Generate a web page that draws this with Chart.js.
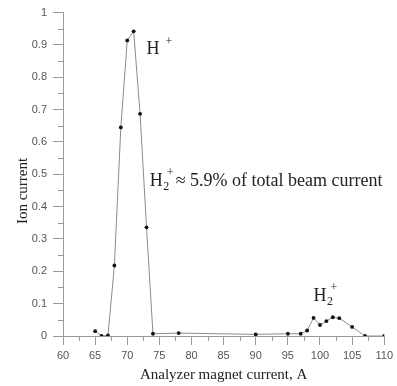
<!DOCTYPE html>
<html>
<head>
<meta charset="utf-8">
<script src="https://cdn.jsdelivr.net/npm/chart.js@4.4.1/dist/chart.umd.min.js"></script>
<style>
  html, body { margin: 0; padding: 0; background: #fff; }
  #wrap { width: 397px; height: 386px; }
</style>
</head>
<body>
<div id="wrap"><canvas id="ionChart" width="397" height="386"></canvas></div>
<script>
// analyzer magnet current (A) and ion current (normalised)
var magnetCurrent = [65, 66, 67, 68, 69, 70, 71, 72, 73, 74, 78, 90, 95, 97, 98, 99, 100, 101, 102, 103, 105, 107, 110];
var ionCurrent = [0.015, 0, 0.002, 0.218, 0.645, 0.914, 0.942, 0.687, 0.336, 0.007, 0.009, 0.005, 0.007, 0.007, 0.017, 0.056, 0.034, 0.046, 0.058, 0.055, 0.028, 0, 0];

var xTitle = 'Analyzer magnet current, A';
var yTitle = 'Ion current';

var points = [];
for (var i in magnetCurrent) {
  points.push({ x: magnetCurrent[i], y: ionCurrent[i] });
}

var serif = '"Liberation Serif", "Times New Roman", serif';
var textColor = '#222';
var axisColor = '#9a9a9a';

// H, subscript 2, superscript + ... then the rest of the string
function drawLabel(ctx, x, y, sub, rest) {
  ctx.font = '18px ' + serif;
  ctx.fillText('H', x, y);
  x += ctx.measureText('H').width;
  ctx.font = '12px ' + serif;
  var w = 0;
  if (sub) {
    ctx.fillText(sub, x + 0.5, y + 4);
    w = ctx.measureText(sub).width;
    ctx.fillText('+', x + 4, y - 10);
  } else {
    ctx.fillText('+', x + 6, y - 9);
  }
  x += Math.max(w, 7) + 6;
  if (rest) {
    ctx.font = '18px ' + serif;
    ctx.fillText(rest, x, y);
  }
}

var extras = {
  id: 'extras',
  afterDraw: function(chart) {
    var ctx = chart.ctx;
    var xs = chart.scales.x, ys = chart.scales.y;
    var bottom = ys.getPixelForValue(0);
    var left = xs.getPixelForValue(60);
    ctx.save();
    // minor ticks
    ctx.strokeStyle = axisColor;
    ctx.lineWidth = 1;
    ctx.beginPath();
    for (var v = 62.5; v < 110; v += 5) {
      var px = Math.round(xs.getPixelForValue(v)) + 0.5;
      ctx.moveTo(px, bottom);
      ctx.lineTo(px, bottom + 5);
    }
    for (var k = 1; k < 20; k += 2) {
      var py = Math.round(ys.getPixelForValue(k / 20)) + 0.5;
      ctx.moveTo(left - 5, py);
      ctx.lineTo(left, py);
    }
    ctx.stroke();

    // text
    ctx.fillStyle = textColor;
    ctx.textBaseline = 'alphabetic';
    ctx.textAlign = 'left';
    drawLabel(ctx, xs.getPixelForValue(73.0), ys.getPixelForValue(0.871), null, null);
    drawLabel(ctx, xs.getPixelForValue(73.5), ys.getPixelForValue(0.465), '2', '\u2248 5.9% of total beam current');
    drawLabel(ctx, xs.getPixelForValue(99.0), ys.getPixelForValue(0.108), '2', null);

    ctx.font = '15px ' + serif;
    ctx.textAlign = 'center';
    ctx.fillText(xTitle, (chart.chartArea.left + chart.chartArea.right) / 2, 379);
    ctx.translate(27, 191);
    ctx.rotate(-Math.PI / 2);
    ctx.fillText(yTitle, 0, 0);
    ctx.restore();
  }
};

var ctx = document.getElementById('ionChart');
var chart = new Chart(ctx, {
  type: 'scatter',
  data: {
    datasets: [{
      label: 'Ion current',
      data: points,
      showLine: true,
      borderColor: '#8c8c8c',
      borderWidth: 1,
      pointRadius: 1.9,
      pointBackgroundColor: '#111',
      pointBorderWidth: 0,
      tension: 0
    }]
  },
  options: {
    responsive: false,
    animation: false,
    layout: { padding: { left: 0, top: 11, right: 9, bottom: 0 } },
    plugins: {
      legend: { display: false },
      tooltip: { enabled: false }
    },
    scales: {
      x: {
        type: 'linear',
        min: 60,
        max: 110,
        ticks: {
          stepSize: 5,
          color: '#555',
          padding: 4,
          font: { family: '"Liberation Sans", Arial, sans-serif', size: 11 }
        },
        grid: { drawOnChartArea: false, drawTicks: true, tickLength: 9, color: axisColor },
        border: { color: axisColor },
        afterFit: function(scale) { scale.height = 50; }
      },
      y: {
        min: 0,
        max: 1,
        ticks: {
          stepSize: 0.1,
          color: '#555',
          padding: 6,
          font: { family: '"Liberation Sans", Arial, sans-serif', size: 11 },
          callback: function(v) { return String(+v.toFixed(2)); }
        },
        grid: { drawOnChartArea: false, drawTicks: true, tickLength: 10, color: axisColor },
        border: { color: axisColor },
        afterFit: function(scale) { scale.width = 63; }
      }
    }
  },
  plugins: [extras]
});
</script>
</body>
</html>
